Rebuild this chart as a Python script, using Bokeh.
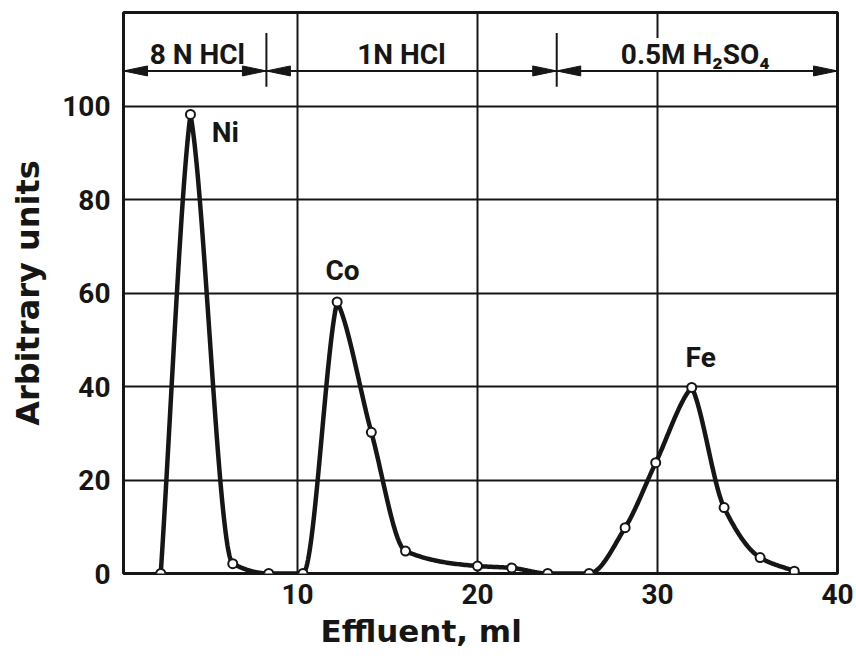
import numpy as np
from bokeh.plotting import figure
from bokeh.models import Range1d, FixedTicker, Label, Title
from bokeh.embed import file_html
from bokeh.resources import INLINE

# Effluent volume (ml) and detector response of the collected fractions
ni_ml = [2.4, 4.05, 6.4, 8.4]
ni_signal = [0.0, 98.2, 2.1, 0.0]
co_ml = [10.3, 12.2, 14.1, 16.0, 20.0, 21.9, 23.9]
co_signal = [0.0, 58.1, 30.2, 4.8, 1.6, 1.2, 0.0]
fe_ml = [26.2, 28.2, 29.9, 31.9, 33.7, 35.7, 37.6]
fe_signal = [0.0, 9.8, 23.7, 39.8, 14.1, 3.4, 0.5]

# Eluent programme: names, volumes at which the eluent is changed, label centres
eluent_names = ["8 N HCl", "1N HCl", "0.5M H₂SO₄"]
eluent_changes = [8.27, 24.4]
eluent_label_ml = [4.43, 15.77, 32.1]

# Peak annotations
peak_names = ["Ni", "Co", "Fe"]
peak_label_ml = [5.23, 12.5, 32.4]
peak_label_units = [94.4, 64.9, 46.3]
peak_label_align = ["left", "center", "center"]

x_ticks = [10, 20, 30, 40]
y_ticks = [0, 20, 40, 60, 80, 100]

INK = "#161616"
NUM_FONT = "Roboto"
TITLE_FONT = "DejaVu Sans"

X0, X1 = 0.33, 40.0
Y0, Y1 = 0.0, 120.0
W, H = 856, 660
BL, BR, BT, BB = 123, 19, 12, 87
FW, FH = W - BL - BR, H - BT - BB


def smooth_path(xs, ys, peak_slope=0.5, samples=40):
    """Piecewise cubic Hermite through the points: monotone between points,
    with a slight corner kept at each peak."""
    x = np.asarray(xs, float)
    y = np.asarray(ys, float)
    h = np.diff(x)
    d = np.diff(y) / h
    n = len(x)
    m_in = np.zeros(n)
    m_out = np.zeros(n)
    m_out[0] = d[0]
    m_in[-1] = d[-1]
    for k in range(1, n - 1):
        a, b = d[k - 1], d[k]
        if a * b > 0:
            w1 = 2 * h[k] + h[k - 1]
            w2 = h[k] + 2 * h[k - 1]
            m_in[k] = m_out[k] = (w1 + w2) / (w1 / a + w2 / b)
        elif a > 0 > b:
            m_in[k] = peak_slope * a
            m_out[k] = peak_slope * b
    px, py = [], []
    for k in range(n - 1):
        t = np.linspace(0, 1, samples, endpoint=(k == n - 2))
        h00 = 2 * t**3 - 3 * t**2 + 1
        h10 = t**3 - 2 * t**2 + t
        h01 = -2 * t**3 + 3 * t**2
        h11 = t**3 - t**2
        px.append(x[k] + t * h[k])
        py.append(h00 * y[k] + h10 * h[k] * m_out[k]
                  + h01 * y[k + 1] + h11 * h[k] * m_in[k + 1])
    return np.concatenate(px), np.concatenate(py)


all_ml = ni_ml + co_ml + fe_ml
all_signal = ni_signal + co_signal + fe_signal

p = figure(width=W, height=H, output_backend="svg", toolbar_location=None,
           x_range=Range1d(X0, X1), y_range=Range1d(Y0, Y1),
           min_border_left=BL, min_border_right=BR,
           min_border_top=BT, min_border_bottom=BB)
p.background_fill_color = "white"
p.border_fill_color = "white"
p.outline_line_color = INK
p.outline_line_width = 3

# Axes: no axis lines or ticks, only the numbers
for ax in (p.xaxis[0], p.yaxis[0]):
    ax.axis_line_color = None
    ax.major_tick_line_color = None
    ax.minor_tick_line_color = None
    ax.major_tick_in = 0
    ax.major_tick_out = 0
    ax.minor_tick_out = 0
    ax.major_label_text_font = NUM_FONT
    ax.major_label_text_font_size = "28px"
    ax.major_label_text_font_style = "bold"
    ax.major_label_text_color = INK

p.xaxis.ticker = FixedTicker(ticks=x_ticks)
p.yaxis.ticker = FixedTicker(ticks=y_ticks)
p.xaxis.major_label_standoff = 10
p.yaxis.major_label_standoff = 13

p.yaxis.axis_label = "Arbitrary units"
p.yaxis.axis_label_text_font = TITLE_FONT
p.yaxis.axis_label_text_font_size = "32px"
p.yaxis.axis_label_text_font_style = "bold"
p.yaxis.axis_label_text_color = INK
p.yaxis.axis_label_standoff = 12

# x axis title, set a little left of centre
p.add_layout(Title(text="Effluent, ml", align="left", offset=197, standoff=8,
                   text_font=TITLE_FONT, text_font_size="31px",
                   text_font_style="bold", text_color=INK), "below")

# Grid
p.xgrid.ticker = FixedTicker(ticks=[t for t in x_ticks if t < X1])
p.ygrid.ticker = FixedTicker(ticks=[t for t in y_ticks if t > Y0])
for g in (p.xgrid[0], p.ygrid[0]):
    g.grid_line_color = INK
    g.grid_line_width = 2
    g.grid_line_alpha = 1.0

# Elution curve and fractions
cx, cy = smooth_path(all_ml, all_signal)
p.line(cx, cy, line_color=INK, line_width=4.5, line_join="round", line_cap="round")
p.scatter(all_ml, all_signal, size=9, marker="circle", fill_color="white",
          line_color=INK, line_width=2)

# Peak labels
for name, xv, yv, al in zip(peak_names, peak_label_ml, peak_label_units, peak_label_align):
    p.add_layout(Label(x=xv, y=yv, text=name, text_font=NUM_FONT, text_font_size="28px",
                       text_font_style="bold", text_color=INK, text_align=al,
                       text_baseline="middle"))

# Eluent programme across the top
dim_y = 107.5
bounds = [X0] + eluent_changes + [X1]
head_len = 24 / (FW / (X1 - X0))
head_half = 5 / (FH / (Y1 - Y0))

dim = p.segment(x0=[bounds[0]], y0=[dim_y], x1=[bounds[-1]], y1=[dim_y],
                line_color=INK, line_width=2)
dim.level = "overlay"

tri_x, tri_y = [], []
for a, b in zip(bounds[:-1], bounds[1:]):
    tri_x.append([a, a + head_len, a + head_len])
    tri_y.append([dim_y, dim_y + head_half, dim_y - head_half])
    tri_x.append([b, b - head_len, b - head_len])
    tri_y.append([dim_y, dim_y + head_half, dim_y - head_half])
heads = p.patches(tri_x, tri_y, fill_color=INK, line_color=INK, line_width=1)
heads.level = "overlay"

p.segment(x0=eluent_changes, y0=[104.1] * len(eluent_changes),
          x1=eluent_changes, y1=[115.6] * len(eluent_changes),
          line_color=INK, line_width=2)

for i, (name, xv) in enumerate(zip(eluent_names, eluent_label_ml)):
    lab = Label(x=xv, y=111.0, text=name, text_font=NUM_FONT, text_font_size="28px",
                text_font_style="bold", text_color=INK, text_align="center",
                text_baseline="alphabetic")
    if i == len(eluent_names) - 1:
        lab.background_fill_color = "white"
    p.add_layout(lab)

open("out.html", "w").write(file_html(p, INLINE))
